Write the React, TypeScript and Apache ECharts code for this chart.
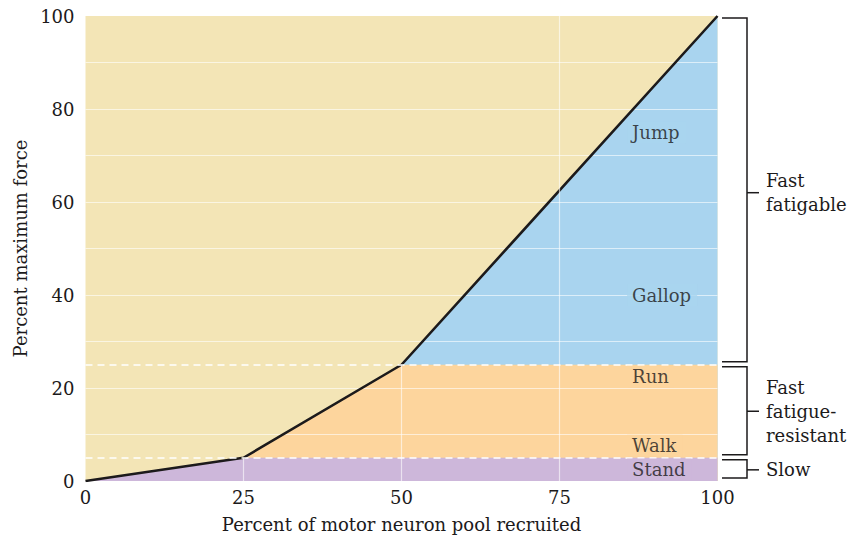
import React, { useEffect, useRef } from "react";
import * as echarts from "echarts";

// ---- data ----
const recruitPct = [0, 25, 50, 100];
const forceBoundary = [0, 5, 25, 100];
const bandLimits = [5, 25];
const xTicks = [0, 25, 50, 75, 100];
const yTickLabels = ["0", "20", "40", "60", "80", "100"];

const activityNames = ["Jump", "Gallop", "Run", "Walk", "Stand"];
const activityForce = [75, 40, 22.4, 7.6, 2.5];
const activityRecruit = [85.7, 85.7, 85.7, 85.7, 85.7];

const fiberTypes = ["Fast\nfatigable", "Fast\nfatigue-\nresistant", "Slow"];
const fiberLow = [25, 5, 0];
const fiberHigh = [100, 25, 5];
const fiberTick = [62, 15, 2.4];

// partial vertical grid segments (x, top)
const vGridX = [25, 50, 75];
const vGridTop = [5, 25, 100];

const FONT = "DejaVu Serif";
const INK = "#1c1a1b";
const YELLOW = "#F3E5B6";
const BLUE = "#A9D4EF";
const ORANGE = "#FDD59D";
const PURPLE = "#CDB7DA";
const activityBg = [BLUE, BLUE, ORANGE, ORANGE, PURPLE];

export default function App() {
  const ref = useRef<HTMLDivElement>(null);
  useEffect(() => {
    if (!ref.current) return;
    const chart = echarts.init(ref.current, null, { renderer: "svg" });
    const boundary = recruitPct.map((x, i) => [x, forceBoundary[i]]);
    const capped = (lim: number) => recruitPct.map((x, i) => [x, Math.min(forceBoundary[i], lim)]);
    const areaSeries = (data: number[][], color: string) => ({
      type: "line",
      data,
      symbol: "none",
      silent: true,
      lineStyle: { width: 0 },
      areaStyle: { color, opacity: 1 },
      z: 2,
    });
    chart.setOption({
      animation: false,
      grid: {
        left: 85.5,
        right: 135.5,
        top: 16,
        bottom: 59,
        show: true,
        backgroundColor: YELLOW,
        borderWidth: 0,
      },
      xAxis: {
        type: "value",
        min: 0,
        max: 100,
        interval: 25,
        axisLine: { show: false },
        axisTick: { show: false },
        splitLine: { show: false },
        axisLabel: {
          color: INK,
          fontFamily: FONT,
          fontSize: 18,
          margin: 7,
          formatter: (v: number) => (xTicks.includes(v) ? String(v) : ""),
        },
        name: "Percent of motor neuron pool recruited",
        nameLocation: "middle",
        nameGap: 34,
        nameTextStyle: { color: INK, fontFamily: FONT, fontSize: 18 },
      },
      yAxis: {
        type: "value",
        min: 0,
        max: 100,
        interval: 10,
        z: 3,
        axisLine: { show: false },
        axisTick: { show: false },
        splitLine: {
          show: true,
          showMinLine: false,
          showMaxLine: false,
          lineStyle: { color: "rgba(255,255,255,0.6)", width: 1.2 },
        },
        axisLabel: {
          color: INK,
          fontFamily: FONT,
          fontSize: 18,
          margin: 11,
          formatter: (v: number) => (yTickLabels.includes(String(v)) ? String(v) : ""),
        },
        name: "Percent maximum force",
        nameLocation: "middle",
        nameGap: 53,
        nameTextStyle: { color: INK, fontFamily: FONT, fontSize: 18 },
      },
      series: [
        areaSeries(boundary, BLUE),
        areaSeries(capped(bandLimits[1]), ORANGE),
        areaSeries(capped(bandLimits[0]), PURPLE),
        {
          type: "line",
          data: [],
          z: 3,
          silent: true,
          markLine: {
            silent: true,
            symbol: "none",
            label: { show: false },
            data: [
              ...bandLimits.map((b) => ({
                yAxis: b,
                lineStyle: { color: "#ffffff", width: 1.5, type: [7, 5], opacity: 1 },
              })),
              ...vGridX.map((x, i) => [
                { coord: [x, 0], lineStyle: { color: "rgba(255,255,255,0.6)", width: 1.2, type: "solid" } },
                { coord: [x, vGridTop[i]] },
              ]),
            ],
          },
        },
        {
          type: "line",
          data: boundary,
          symbol: "none",
          z: 4,
          silent: true,
          lineStyle: { color: INK, width: 2.6 },
        },
        {
          type: "scatter",
          z: 5,
          silent: true,
          symbolSize: 0,
          data: activityNames.map((n, i) => ({
            value: [activityRecruit[i], activityForce[i]],
            name: n,
            label: { backgroundColor: activityBg[i] },
          })),
          label: {
            show: true,
            position: "right",
            distance: 0,
            padding: [2, 6, 2, 5],
            formatter: (p: any) => p.name,
            color: INK,
            fontFamily: FONT,
            fontSize: 18,
          },
        },
        {
          type: "custom",
          z: 5,
          silent: true,
          clip: false,
          data: fiberTypes.map((_, i) => [fiberLow[i], fiberHigh[i], fiberTick[i], i]),
          renderItem: (params: any, api: any) => {
            const lo = api.coord([100, api.value(0)]);
            const hi = api.coord([100, api.value(1)]);
            const t = api.coord([100, api.value(2)]);
            const idx = api.value(3);
            const x0 = lo[0] + 4.5;
            const x1 = lo[0] + 29.5;
            const top = hi[1] + 2;
            const bottom = lo[1] - 3;
            return {
              type: "group",
              children: [
                {
                  type: "polyline",
                  shape: { points: [[x0, top], [x1, top], [x1, bottom], [x0, bottom]] },
                  style: { stroke: INK, lineWidth: 1.5, fill: null },
                },
                {
                  type: "line",
                  shape: { x1: x1, y1: t[1], x2: x1 + 12, y2: t[1] },
                  style: { stroke: INK, lineWidth: 1.5 },
                },
                {
                  type: "text",
                  style: {
                    text: fiberTypes[idx],
                    x: x1 + 19,
                    y: t[1],
                    align: "left",
                    verticalAlign: "middle",
                    fill: INK,
                    fontFamily: FONT,
                    fontSize: 18,
                    lineHeight: 24,
                  },
                },
              ],
            };
          },
        },
      ],
    });
    return () => chart.dispose();
  }, []);
  return (
    <div
      ref={ref}
      style={{ position: "fixed", left: 0, top: 0, width: 853, height: 540, background: "#fff" }}
    />
  );
}
